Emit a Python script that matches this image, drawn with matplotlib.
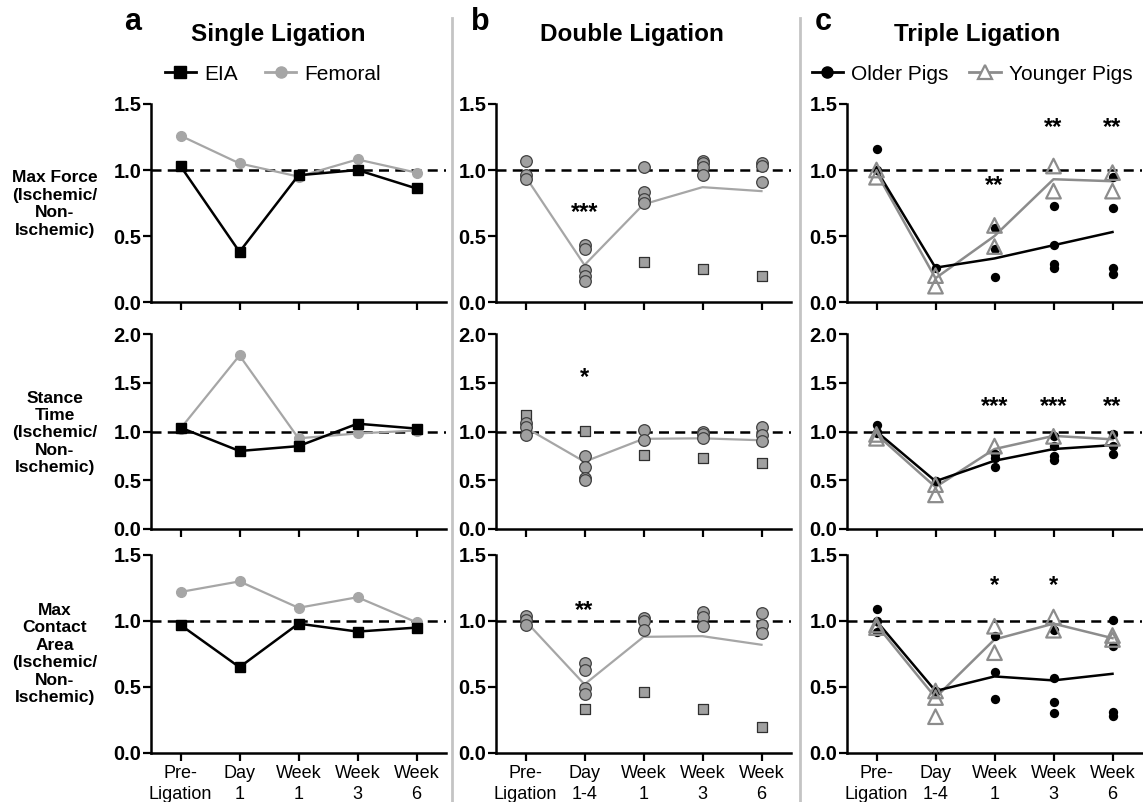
import numpy as np
import matplotlib.pyplot as plt
from matplotlib.lines import Line2D

plt.rcParams['font.family'] = ['Liberation Sans', 'DejaVu Sans']

nan = np.nan

# x categories
labels_a = ['Pre-\nLigation', 'Day\n1', 'Week\n1', 'Week\n3', 'Week\n6']
labels_bc = ['Pre-\nLigation', 'Day\n1-4', 'Week\n1', 'Week\n3', 'Week\n6']
row_labels = ['Max Force\n(Ischemic/\nNon-\nIschemic)',
              'Stance\nTime\n(Ischemic/\nNon-\nIschemic)',
              'Max\nContact\nArea\n(Ischemic/\nNon-\nIschemic)']
row_ymax = [1.5, 2.0, 1.5]

# a: single ligation
eia_force = [1.03, 0.38, 0.96, 1.00, 0.86]
fem_force = [1.26, 1.05, 0.95, 1.08, 0.98]
eia_stance = [1.04, 0.80, 0.85, 1.08, 1.03]
fem_stance = [1.03, 1.78, 0.93, 0.98, 1.01]
eia_area = [0.97, 0.65, 0.98, 0.92, 0.95]
fem_area = [1.22, 1.30, 1.10, 1.18, 0.99]

# b: double ligation (circles, squares, mean line)
b_force_circ = [[1.07, 0.96, 0.93], [0.43, 0.40, 0.24, 0.20, 0.16],
                [1.02, 0.83, 0.78, 0.75], [1.07, 1.05, 1.02, 0.96], [1.05, 1.03, 0.91]]
b_force_sq = [nan, nan, 0.305, 0.25, 0.20]
b_force_mean = [0.95, 0.28, 0.74, 0.87, 0.84]
b_stance_circ = [[1.09, 1.05, 0.96], [0.75, 0.635, 0.52, 0.50],
                 [1.02, 0.915], [1.00, 0.97, 0.93], [1.05, 0.96, 0.90]]
b_stance_sq = [1.17, 1.01, 0.76, 0.73, 0.68]
b_stance_mean = [1.04, 0.69, 0.925, 0.93, 0.91]
b_area_circ = [[1.04, 1.01, 0.97], [0.68, 0.63, 0.49, 0.45],
               [1.02, 1.00, 0.93], [1.07, 1.03, 0.96], [1.06, 0.97, 0.91]]
b_area_sq = [nan, 0.33, 0.46, 0.33, 0.20]
b_area_mean = [1.00, 0.52, 0.88, 0.885, 0.82]

# c: triple ligation (older dots, younger triangles, mean lines)
old_force = [[1.16, 1.00], [0.26], [0.56, 0.40, 0.19], [0.73, 0.43, 0.29, 0.26], [0.945, 0.71, 0.26, 0.21]]
old_force_mean = [1.00, 0.26, 0.33, 0.43, 0.53]
young_force = [[1.00, 0.945], [0.20, 0.12], [0.58, 0.42], [1.03, 0.84], [0.98, 0.84]]
young_force_mean = [0.98, 0.18, 0.50, 0.93, 0.915]
old_stance = [[1.07, 0.98, 1.00], [0.49], [0.765, 0.73, 0.64], [0.95, 0.85, 0.75, 0.71], [0.97, 0.85, 0.765]]
old_stance_mean = [1.00, 0.49, 0.70, 0.82, 0.86]
young_stance = [[0.93, 0.97], [0.35, 0.455], [0.85], [0.95], [0.93]]
young_stance_mean = [0.97, 0.43, 0.82, 0.955, 0.92]
old_area = [[1.09, 0.92, 1.00], [0.47], [0.885, 0.61, 0.41], [0.93, 0.57, 0.39, 0.30], [1.01, 0.81, 0.31, 0.28]]
old_area_mean = [1.00, 0.47, 0.58, 0.55, 0.60]
young_area = [[0.95, 0.97], [0.275, 0.42, 0.47], [0.96, 0.76], [1.03, 0.93], [0.89, 0.86]]
young_area_mean = [0.97, 0.42, 0.86, 0.98, 0.87]

# significance marks
b_stars = [['', '***', '', '', ''], ['', '*', '', '', ''], ['', '**', '', '', '']]
b_star_y = [0.68, 1.55, 1.08]
c_stars = [['', '', '**', '**', '**'], ['', '', '***', '***', '**'], ['', '', '*', '*', '']]
c_star_y = [[0, 0, 0.88, 1.32, 1.32], [0, 0, 1.26, 1.26, 1.26], [0, 0, 1.27, 1.27, 0]]

W, H = 1143, 802
fig = plt.figure(figsize=(W / 100, H / 100), dpi=100)

col_left = [151, 496, 847]
col_width = 295
row_top = [104, 334, 555]
row_bot = [302, 529, 753]

GRAY = '#a6a6a6'
DGRAY = '#8c8c8c'
x = np.arange(5)


def style(ax, ymax, labels, show_x):
    ax.set_xlim(-0.5, 4.5)
    ax.set_ylim(0, ymax)
    ax.set_yticks(np.arange(0, ymax + 0.01, 0.5))
    ax.set_yticklabels(['%.1f' % v for v in np.arange(0, ymax + 0.01, 0.5)],
                       fontsize=14.5, fontweight='bold')
    ax.set_xticks(x)
    ax.set_xticklabels(labels if show_x else [''] * 5, fontsize=13, linespacing=1.3)
    for s in ['top', 'right']:
        ax.spines[s].set_visible(False)
    for s in ['left', 'bottom']:
        ax.spines[s].set_linewidth(1.8)
    ax.tick_params(direction='out', length=6, width=1.6, pad=1)
    ax.tick_params(axis='x', pad=3)
    ax.axhline(1.0, color='black', ls=(0, (4, 2.5)), lw=1.8, zorder=1)


axes = [[None] * 3 for _ in range(3)]
for r in range(3):
    for c in range(3):
        ax = fig.add_axes([col_left[c] / W, 1 - row_bot[r] / H,
                           col_width / W, (row_bot[r] - row_top[r]) / H])
        style(ax, row_ymax[r], labels_a if c == 0 else labels_bc, r == 2)
        ax.patch.set_alpha(0)
        axes[r][c] = ax

# column a
a_data = [(eia_force, fem_force), (eia_stance, fem_stance), (eia_area, fem_area)]
for r, (eia, fem) in enumerate(a_data):
    ax = axes[r][0]
    ax.plot(x, fem, color=GRAY, lw=1.6, marker='o', ms=7, zorder=3)
    ax.plot(x, eia, color='black', lw=1.8, marker='s', ms=7, zorder=4)

# column b
b_data = [(b_force_circ, b_force_sq, b_force_mean),
          (b_stance_circ, b_stance_sq, b_stance_mean),
          (b_area_circ, b_area_sq, b_area_mean)]
for r, (circ, sq, mean) in enumerate(b_data):
    ax = axes[r][1]
    ax.plot(x, mean, color=GRAY, lw=1.6, zorder=2)
    ax.scatter(x, sq, marker='s', s=60, facecolor='#a0a0a0', edgecolor='#303030',
               linewidth=0.9, zorder=3)
    for i, vals in enumerate(circ):
        ax.scatter([x[i]] * len(vals), vals, marker='o', s=70, facecolor='#a0a0a0',
                   edgecolor='#404040', linewidth=0.9, zorder=4)
    for i, st in enumerate(b_stars[r]):
        if st:
            ax.text(x[i], b_star_y[r], st, ha='center', va='center',
                    fontsize=17, fontweight='bold')

# column c
c_data = [(old_force, old_force_mean, young_force, young_force_mean),
          (old_stance, old_stance_mean, young_stance, young_stance_mean),
          (old_area, old_area_mean, young_area, young_area_mean)]
for r, (old, old_m, yng, yng_m) in enumerate(c_data):
    ax = axes[r][2]
    ax.plot(x, yng_m, color=DGRAY, lw=1.8, zorder=2)
    ax.plot(x, old_m, color='black', lw=1.8, zorder=3)
    for i, vals in enumerate(old):
        ax.scatter([x[i]] * len(vals), vals, marker='o', s=45, color='black',
                   linewidth=0, zorder=4)
    for i, vals in enumerate(yng):
        ax.scatter([x[i]] * len(vals), vals, marker='^', s=110, facecolor='none',
                   edgecolor=DGRAY, linewidth=1.6, zorder=5)
    for i, st in enumerate(c_stars[r]):
        if st:
            ax.text(x[i], c_star_y[r][i], st, ha='center', va='center',
                    fontsize=17, fontweight='bold')

# row labels
row_label_y = [204, 433, 654]
for r in range(3):
    fig.text(55 / W, 1 - row_label_y[r] / H, row_labels[r], ha='center', va='center',
             fontsize=12.5, fontweight='bold', linespacing=1.2)

# column titles and panel letters
titles = ['Single Ligation', 'Double Ligation', 'Triple Ligation']
title_x = [278, 632, 977]
letters = ['a', 'b', 'c']
letter_x = [133, 480, 823]
for i in range(3):
    fig.text(title_x[i] / W, 1 - 35 / H, titles[i], ha='center', va='center',
             fontsize=17.5, fontweight='bold')
    fig.text(letter_x[i] / W, 1 - 22 / H, letters[i], ha='center', va='center',
             fontsize=22, fontweight='bold')

# separators
for sx in [452, 800]:
    fig.add_artist(Line2D([sx / W, sx / W], [0, 1 - 18 / H], color='#c4c4c4', lw=2))

# legends
leg_a = [Line2D([], [], color='black', lw=2, marker='s', ms=8),
         Line2D([], [], color=GRAY, lw=2, marker='o', ms=8)]
fig.legend(leg_a, ['EIA', 'Femoral'], loc='center', bbox_to_anchor=(273 / W, 1 - 74 / H),
           ncol=2, frameon=False, fontsize=15, handlelength=1.5, handletextpad=0.4,
           columnspacing=1.3)
leg_c = [Line2D([], [], color='black', lw=2, marker='o', ms=8),
         Line2D([], [], color=DGRAY, lw=2, marker='^', ms=10, mfc='white',
                mec=DGRAY, mew=1.6)]
fig.legend(leg_c, ['Older Pigs', 'Younger Pigs'], loc='center',
           bbox_to_anchor=(972 / W, 1 - 74 / H), ncol=2, frameon=False, fontsize=15,
           handlelength=1.5, handletextpad=0.4, columnspacing=1.0)

fig.savefig('out.png', dpi=100)
